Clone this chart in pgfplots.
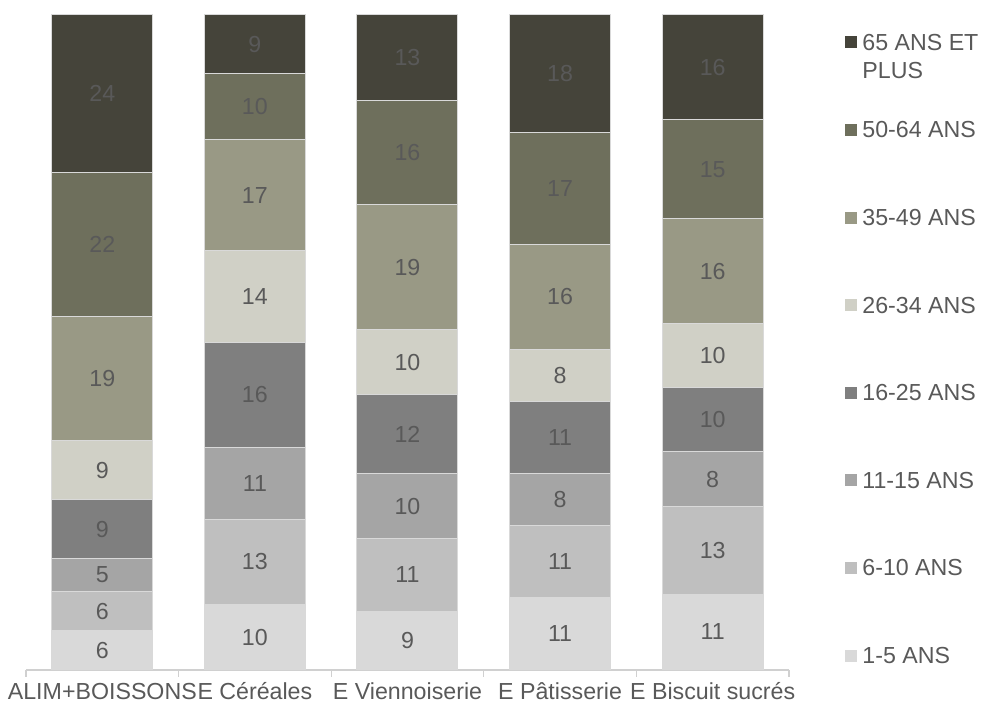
\documentclass[border=0pt]{standalone}
\usepackage{pgfplots}
\pgfplotsset{compat=1.18}
\usepackage{pgfplotstable}
\usepackage{fontspec}
\setmainfont{Liberation Sans}
\definecolor{c1}{HTML}{D9D9D9}
\definecolor{c2}{HTML}{BFBFBF}
\definecolor{c3}{HTML}{A5A5A5}
\definecolor{c4}{HTML}{7F7F7F}
\definecolor{c5}{HTML}{D0D0C6}
\definecolor{c6}{HTML}{999985}
\definecolor{c7}{HTML}{6E6F5C}
\definecolor{c8}{HTML}{45443A}
\definecolor{lab}{HTML}{595959}
\definecolor{axl}{HTML}{D0D0D0}
\pgfplotsset{sqleg/.style={legend image code/.code={\fill[##1,draw=none] (0pt,-3pt) rectangle (6pt,3pt);}}}
\pgfplotstableread{
x y1 y2 y3 y4 y5 y6 y7 y8 l1 l2 l3 l4 l5 l6 l7 l8
0 6 6 5 9 9 19 22 24 6 6 5 9 9 19 22 24
1 10 13 11 16 14 17 10 9 10 13 11 16 14 17 10 9
2 9 11 10 12 10 19 16 13 9 11 10 12 10 19 16 13
3 11 11 8 11 8 16 17 18 11 11 8 11 8 16 17 18
4 11.6 13.3 8.4 9.8 9.8 16 15.1 16 11 13 8 10 10 16 15 16
}\data
\begin{document}
\begin{tikzpicture}
\begin{axis}[
  name=ax, at={(0,0)}, anchor=south west,
  scale only axis, width=381.5pt, height=327.5pt,
  ybar stacked, bar width=50.5pt,
  xmin=-0.5, xmax=4.5, ymin=0, ymax=100,
  axis x line=bottom, axis y line=none,
  x axis line style={-, draw=axl, line width=0.6pt},
  xtick={0,...,4},
  xticklabels={ALIM+BOISSONS, E Céréales, E Viennoiserie, E Pâtisserie, E Biscuit sucrés},
  major tick length=0pt,
  minor xtick={-0.5,0.5,...,4.5}, minor tick length=3.5pt, tick align=outside,
  minor tick style={draw=axl, line width=0.6pt},
  xticklabel style={font=\fontsize{11.6}{13.9}\selectfont, text=lab, inner sep=0pt, text height=8.3pt, text depth=2pt},
  xticklabel shift=6.5pt,
  point meta=explicit,
  nodes near coords={\pgfmathprintnumber[assume math mode=true]{\pgfplotspointmeta}},
  every node near coord/.append style={font=\fontsize{11.6}{13.9}\selectfont, text=lab, anchor=center},
  clip=false,
  legend style={at={(1.0734,0.00458)}, anchor=south west, draw=none, fill=none, inner sep=0pt,
    row sep=32.8pt, column sep=2.5pt, font=\fontsize{11.6}{13.9}\selectfont, text=lab,
    nodes={inner sep=0pt, text height=9.5pt, text depth=1.5pt}},
  legend cell align=left,
  reverse legend,
]
\addplot[fill=c1, draw=white!85!black, line width=0.5pt, sqleg] table[x=x,y=y1,meta=l1]{\data};
\addlegendentry{1-5 ANS}
\addplot[fill=c2, draw=white!85!black, line width=0.5pt, sqleg] table[x=x,y=y2,meta=l2]{\data};
\addlegendentry{6-10 ANS}
\addplot[fill=c3, draw=white!85!black, line width=0.5pt, sqleg] table[x=x,y=y3,meta=l3]{\data};
\addlegendentry{11-15 ANS}
\addplot[fill=c4, draw=white!85!black, line width=0.5pt, sqleg] table[x=x,y=y4,meta=l4]{\data};
\addlegendentry{16-25 ANS}
\addplot[fill=c5, draw=white!85!black, line width=0.5pt, sqleg] table[x=x,y=y5,meta=l5]{\data};
\addlegendentry{26-34 ANS}
\addplot[fill=c6, draw=white!85!black, line width=0.5pt, sqleg] table[x=x,y=y6,meta=l6]{\data};
\addlegendentry{35-49 ANS}
\addplot[fill=c7, draw=white!85!black, line width=0.5pt, sqleg] table[x=x,y=y7,meta=l7]{\data};
\addlegendentry{50-64 ANS}
\addplot[fill=c8, draw=white!85!black, line width=0.5pt, sqleg] table[x=x,y=y8,meta=l8]{\data};
\addlegendentry{\begin{tabular}[t]{@{}l@{}}65 ANS ET\\PLUS\end{tabular}}
\end{axis}
\pgfresetboundingbox
\path[use as bounding box] (ax.south west) ++(-13pt,-20.5pt) rectangle ++(491pt,355.5pt);
\end{tikzpicture}
\end{document}
